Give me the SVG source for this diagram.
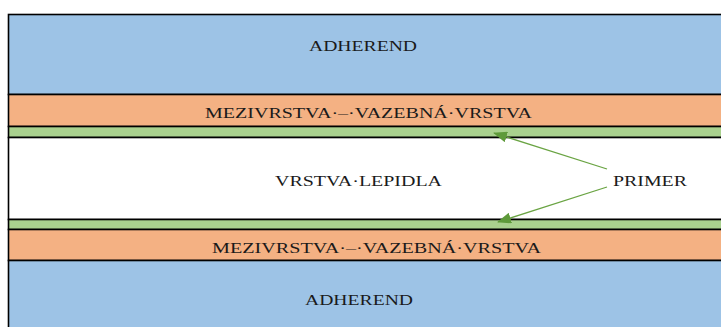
<svg xmlns="http://www.w3.org/2000/svg" width="721" height="327" viewBox="0 0 721 327">
<style>
.l{stroke:#000;stroke-width:1.6}
.blue{fill:#9DC3E6}
.orange{fill:#F4B183}
.green{fill:#A9D18E}
.white{fill:#FFFFFF}
text{font-family:"Liberation Serif","Times New Roman",serif;font-size:15.5px;fill:#1a1a1a}
.c{stroke:#6AA443;stroke-width:1.3;fill:none}
</style>
<defs>
<marker id="ah" markerWidth="14" markerHeight="11" refX="13" refY="5.5" orient="auto" markerUnits="userSpaceOnUse" viewBox="0 0 14 11">
<path d="M0,0 L14,5.5 L0,11 Z" fill="#5E9A3A"/>
</marker>
</defs>
<rect width="721" height="327" fill="#FFFFFF"/>
<g id="adherend-top">
<rect class="blue l" x="8.5" y="14.5" width="730" height="80"/>
<text x="309" y="51" textLength="108" lengthAdjust="spacingAndGlyphs">ADHEREND</text>
</g>
<g id="mezivrstva-top">
<rect class="orange l" x="8.5" y="94.5" width="730" height="32"/>
<text x="205" y="118" textLength="327" lengthAdjust="spacingAndGlyphs">MEZIVRSTVA·–·VAZEBNÁ·VRSTVA</text>
</g>
<g id="primer-top">
<rect class="green l" x="8.5" y="126.5" width="730" height="11"/>
</g>
<g id="vrstva-lepidla">
<rect class="white l" x="8.5" y="137.5" width="730" height="82"/>
<text x="275" y="186" textLength="167" lengthAdjust="spacingAndGlyphs">VRSTVA·LEPIDLA</text>
</g>
<g id="primer-bottom">
<rect class="green l" x="8.5" y="219.5" width="730" height="10"/>
</g>
<g id="mezivrstva-bottom">
<rect class="orange l" x="8.5" y="229.5" width="730" height="31"/>
<text x="212" y="253" textLength="329" lengthAdjust="spacingAndGlyphs">MEZIVRSTVA·–·VAZEBNÁ·VRSTVA</text>
</g>
<g id="adherend-bottom">
<rect class="blue l" x="8.5" y="260.5" width="730" height="80"/>
<text x="305" y="305" textLength="108" lengthAdjust="spacingAndGlyphs">ADHEREND</text>
</g>
<g id="primer-label">
<text x="613" y="186" textLength="74" lengthAdjust="spacingAndGlyphs">PRIMER</text>
</g>
<g id="connectors">
<line class="c" x1="607" y1="169" x2="494" y2="133" marker-end="url(#ah)"/>
<line class="c" x1="607" y1="187" x2="498" y2="222" marker-end="url(#ah)"/>
</g>
</svg>
